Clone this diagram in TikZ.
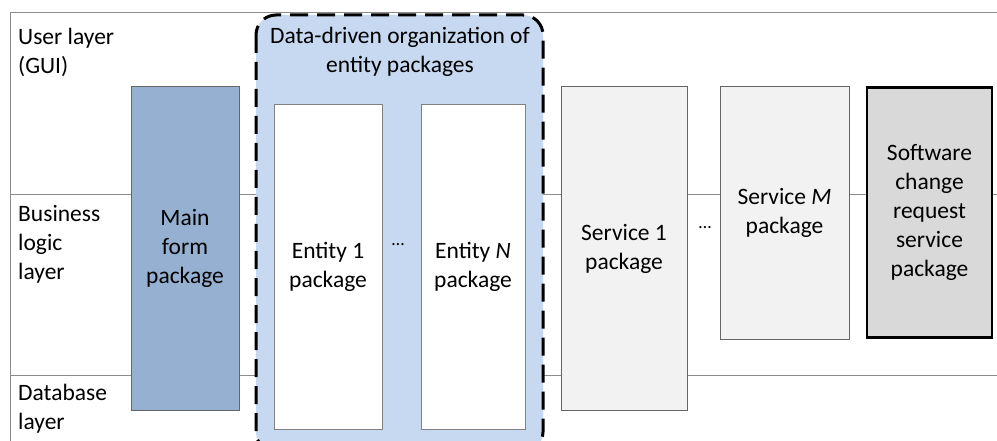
\documentclass[tikz,border=0pt]{standalone}
\usepackage{fontspec}
\setmainfont{Carlito}
\begin{document}
\begin{tikzpicture}[x=1pt,y=-1pt,
  every node/.style={font=\fontsize{23.5}{29}\selectfont, inner sep=0pt},
  layerline/.style={draw=black!45, line width=1pt},
  lbl/.style={anchor=north west, align=left},
  pkg/.style={draw=black!60, line width=1pt, align=center},
  mainpkg/.style={pkg, fill=mainblue},
  entpkg/.style={pkg, fill=white, draw=black!50},
  svcpkg/.style={pkg, fill=black!5},
  crpkg/.style={pkg, fill=black!15, draw=black, line width=2.5pt},
  group/.style={draw=black, fill=groupblue, line width=3pt, dash pattern=on 18pt off 9pt, rounded corners=20pt},
  dots/.style={font=\fontsize{18}{20}\selectfont}
]
\definecolor{mainblue}{HTML}{95B0D1}
\definecolor{groupblue}{HTML}{C6D9F1}
\useasboundingbox (0,0) rectangle (997,441);

% layer frame and separators
\coordinate (tl) at (10,13);
\coordinate (tr) at (997,13);
\coordinate (bl) at (10,441);
\coordinate (m1l) at (10,195);
\coordinate (m1r) at (997,195);
\coordinate (m2l) at (10,375);
\coordinate (m2r) at (997,375);
\draw[layerline] (bl) -- (tl) -- (tr);
\draw[layerline] (m1l) -- (m1r);
\draw[layerline] (m2l) -- (m2r);

% layer labels
\node[lbl] (user) at (18,28) {User layer\\(GUI)};
\node[lbl] (biz) at (18,205) {Business\\logic\\layer};
\node[lbl] (db) at (18,384) {Database\\layer};

% main form package
\node[mainpkg, minimum width=108pt, minimum height=323pt] (main) at (185,248.5) {Main\\form\\package};

% group of entity packages
\path[group] (256,15) rectangle (543,452);
\node[align=center] (gtitle) at (400,52) {Data-driven organization of\\entity packages};
\node[entpkg, minimum width=108pt, minimum height=324pt] (ent1) at (328,267) {Entity 1\\package};
\node[entpkg, minimum width=104pt, minimum height=324pt] (entN) at (473,267) {Entity \textit{N}\\package};
\node[dots] (edots) at (398,245) {\dots};

% service packages
\node[svcpkg, minimum width=126pt, minimum height=323pt] (svc1) at (624,248.5) {Service 1\\package};
\node[dots] (sdots) at (705,228) {\dots};
\node[svcpkg, minimum width=129pt, minimum height=252pt] (svcM) at (784.5,213) {Service \textit{M}\\package};
\node[crpkg, minimum width=125pt, minimum height=250pt] (scr) at (929.5,212.5) {Software\\change\\request\\service\\package};
\end{tikzpicture}
\end{document}
